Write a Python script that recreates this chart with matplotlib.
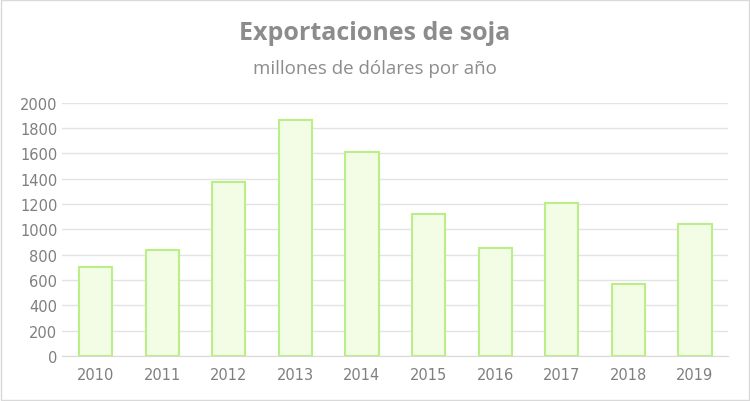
import matplotlib
matplotlib.use("Agg")
import matplotlib.pyplot as plt
from matplotlib.patches import Rectangle

years = ["2010","2011","2012","2013","2014","2015","2016","2017","2018","2019"]
values = [705, 840, 1375, 1865, 1613, 1120, 852, 1210, 568, 1040]

fig = plt.figure(figsize=(7.5, 4.02), dpi=100)
ax = fig.add_axes([0.083, 0.112, 0.888, 0.63])
ax.bar(range(len(years)), values, width=0.5, color="#f3fde6", edgecolor="#b9ef86", linewidth=1.5, zorder=3)
ax.set_xlim(-0.5, len(years) - 0.5)
ax.set_ylim(0, 2000)
ax.set_yticks(range(0, 2001, 200))
ax.set_xticks(range(len(years)))
ax.set_xticklabels(years)
ax.grid(axis="y", color="#e3e3e3", linewidth=1, zorder=0)
for s in ax.spines.values():
    s.set_visible(False)
ax.spines["bottom"].set_visible(True)
ax.spines["bottom"].set_color("#d9d9d9")
ax.tick_params(length=0, colors="#7f7f7f", labelsize=10.5)
ax.tick_params(axis="x", pad=8)
fig.text(0.5, 0.9, "Exportaciones de soja", ha="center", fontsize=18, fontweight="bold", color="#8c8c8c", family="Open Sans")
fig.text(0.5, 0.815, "millones de dólares por año", ha="center", fontsize=13.5, color="#8c8c8c", family="Open Sans")
fig.patches.append(Rectangle((0.001, 0.002), 0.997, 0.995, transform=fig.transFigure, fill=False, edgecolor="#d9d9d9", linewidth=1))
fig.savefig("out.png", dpi=100)
